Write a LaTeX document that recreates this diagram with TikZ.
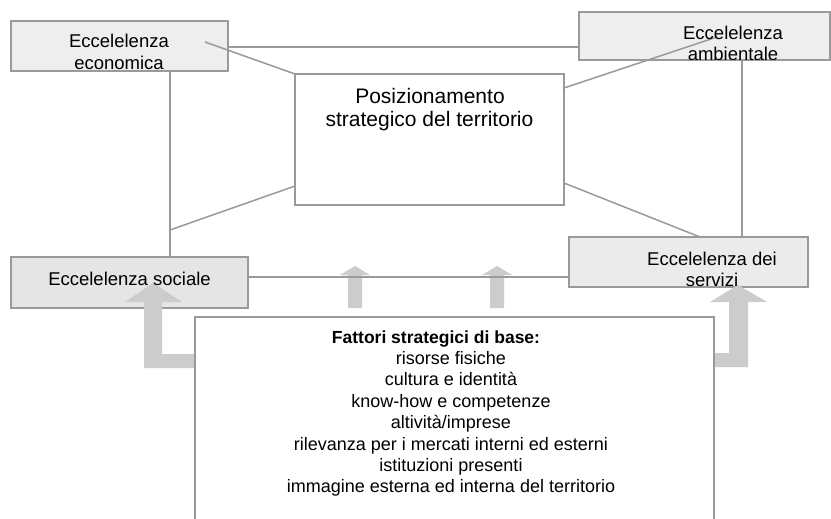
\documentclass[tikz,border=0pt]{standalone}
\usepackage{fontspec}
\setmainfont{Liberation Sans}
\definecolor{edgegray}{HTML}{9A9A9A}
\definecolor{boxfill}{HTML}{EEEEEE}
\definecolor{socfill}{HTML}{E5E5E5}
\definecolor{servfill}{HTML}{EBEBEB}
\definecolor{arrowgray}{HTML}{CCCCCC}
\begin{document}
\begin{tikzpicture}[x=1pt,y=-1pt,
  box/.style={draw=edgegray,line width=1.5pt,inner sep=0pt,outer sep=0pt},
  conn/.style={draw=edgegray,line width=1.5pt},
  blockarrow/.style={fill=arrowgray},
  lbl/.style={inner sep=0pt,outer sep=0pt,anchor=base,font=\fontsize{18.5}{22}\selectfont},
  biglbl/.style={lbl,font=\fontsize{21}{24}\selectfont},
  factlbl/.style={lbl,font=\fontsize{18}{21}\selectfont},
  facthead/.style={lbl,font=\fontsize{17.5}{21}\selectfont\bfseries}]
\clip (0,0) rectangle (831,519);
\fill[white] (0,0) rectangle (831,519);

% outcome boxes
\node[box,fill=boxfill,minimum width=217pt,minimum height=50pt] (econ) at (119.5,46) {};
\node[box,fill=boxfill,minimum width=251pt,minimum height=48pt] (amb) at (704.5,36) {};
\node[box,fill=white,minimum width=269pt,minimum height=131pt] (cent) at (429.5,139.5) {};
\node[box,fill=socfill,minimum width=237pt,minimum height=51pt] (soc) at (129.5,282.5) {};
\node[box,fill=servfill,minimum width=239pt,minimum height=50pt] (serv) at (688.5,262) {};

% block arrows rising from the base factors
\fill[blockarrow] (153,283) -- (182,302) -- (162,302) -- (162,354) -- (195,354)
  -- (195,368) -- (144,368) -- (144,302) -- (125,302) -- cycle;
\fill[blockarrow] (738,285) -- (767,302) -- (748,302) -- (748,367) -- (714,367)
  -- (714,353) -- (729,353) -- (729,302) -- (710,302) -- cycle;
\fill[blockarrow] (355,266) -- (370,275) -- (362,275) -- (362,308) -- (348,308)
  -- (348,275) -- (340,275) -- cycle;
\fill[blockarrow] (497,266) -- (512,275) -- (504,275) -- (504,308) -- (490,308)
  -- (490,275) -- (482,275) -- cycle;

% connectors
\coordinate (econIn) at (205,42);
\coordinate (ambIn) at (717,37);
\coordinate (socJoin) at (170,230);
\draw[conn] (econ.east |- 0,47) -- (amb.west |- 0,47);
\draw[conn] (econIn) -- (cent.north west);
\draw[conn] (econ.south -| 170,0) -- (soc.north -| 170,0);
\draw[conn] (ambIn) -- (cent.east |- 0,88);
\draw[conn] (amb.south -| 742,0) -- (serv.north -| 742,0);
\draw[conn] (socJoin) -- (cent.west |- 0,186);
\draw[conn] (cent.east |- 0,183) -- (serv.north -| 700,0);
\draw[conn] (soc.east |- 0,277) -- (serv.west |- 0,277);

% labels
\begin{scope}
  \clip (econ.north west) rectangle (econ.south east);
  \node[lbl] (econA) at (119,48) {Eccelelenza};
  \node[lbl] (econB) at (119,69.5) {economica};
\end{scope}
\begin{scope}
  \clip (amb.north west) rectangle (amb.south east);
  \node[lbl] (ambA) at (733,40) {Eccelelenza};
  \node[lbl] (ambB) at (733,61) {ambientale};
\end{scope}
\node[biglbl] (centA) at (430,104) {Posizionamento};
\node[biglbl] (centB) at (429.5,127) {strategico del territorio};
\node[lbl] (socA) at (129.5,285) {Eccelelenza sociale};
\begin{scope}
  \clip (serv.north west) rectangle (serv.south east);
  \node[lbl] (servA) at (712,265) {Eccelelenza dei};
  \node[lbl] (servB) at (712,286) {servizi};
\end{scope}

% base factors box
\node[box,fill=white,minimum width=519pt,minimum height=230pt] (fatt) at (454.5,432) {};
\node[facthead] (f0) at (436,343) {Fattori strategici di base:};
\node[factlbl] (f1) at (451,364.4) {risorse fisiche};
\node[factlbl] (f2) at (451,385.8) {cultura e identità};
\node[factlbl] (f3) at (451,407.2) {know-how e competenze};
\node[factlbl] (f4) at (451,428.6) {altività/imprese};
\node[factlbl] (f5) at (451,450) {rilevanza per i mercati interni ed esterni};
\node[factlbl] (f6) at (451,471.4) {istituzioni presenti};
\node[factlbl] (f7) at (451,492.8) {immagine esterna ed interna del territorio};
\end{tikzpicture}
\end{document}
